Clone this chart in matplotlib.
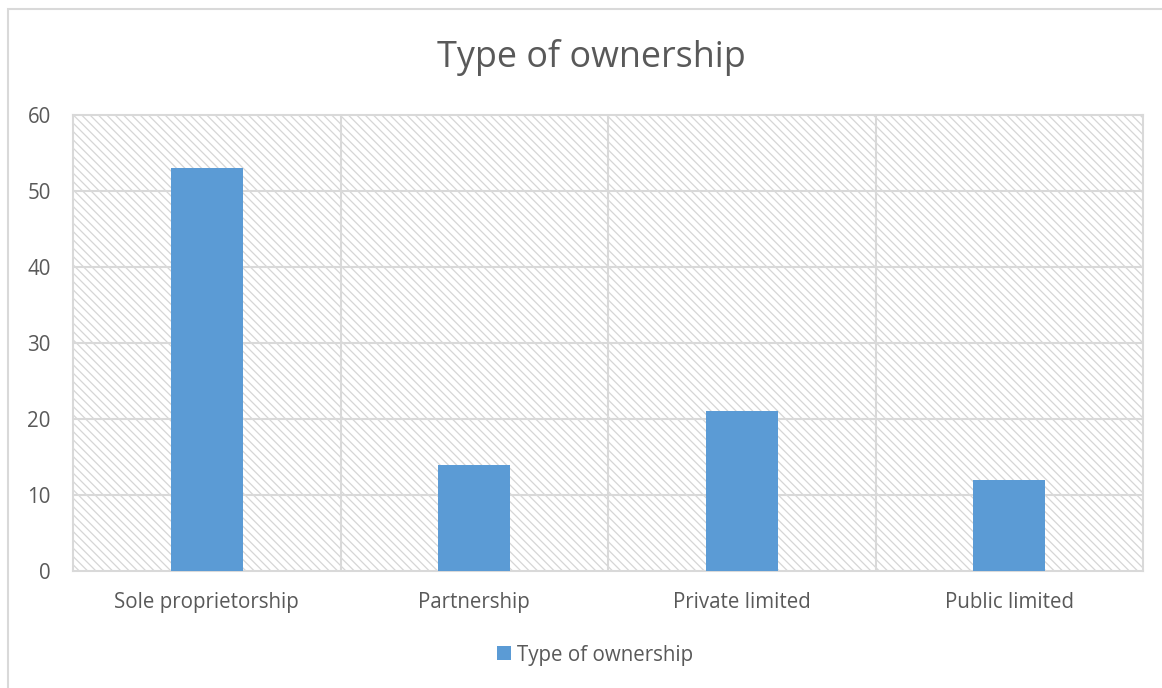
import matplotlib
matplotlib.use("Agg")
import matplotlib.pyplot as plt
from matplotlib.patches import Rectangle

categories = ["Sole proprietorship", "Partnership", "Private limited", "Public limited"]
values = [53, 14, 21, 12]
series_name = "Type of ownership"
yticks = [0, 10, 20, 30, 40, 50, 60]

bar_color = "#5b9bd5"
grid_color = "#d9d9d9"
text_color = "#595959"

plt.rcParams["font.family"] = ["Open Sans", "DejaVu Sans"]
plt.rcParams["hatch.linewidth"] = 0.9

fig = plt.figure(figsize=(11.62, 6.88), dpi=100)
fig.patch.set_facecolor("white")

# chart frame
fig.patches.append(Rectangle((8 / 1162, -0.1), 1.2, (688 - 9) / 688 + 0.1,
                             transform=fig.transFigure, fill=False,
                             edgecolor=grid_color, linewidth=1.5, zorder=0))

ax = fig.add_axes([73 / 1162, 117 / 688, (1143 - 73) / 1162, (571 - 115) / 688])
ax.set_facecolor("white")

# hatched plot background
ax.add_patch(Rectangle((0, 0), 1, 1, transform=ax.transAxes, facecolor="white",
                       edgecolor="#d6d6d6", hatch="\\\\\\\\", linewidth=0, zorder=0))

x = list(range(len(categories)))
ax.bar(x, values, width=0.27, color=bar_color, zorder=3, label=series_name)

ax.set_xlim(-0.5, len(categories) - 0.5)
ax.set_ylim(0, 60)
ax.set_yticks(yticks)
ax.set_xticks(x)
ax.set_xticklabels(categories)

# vertical separators between categories and horizontal gridlines
for b in [i + 0.5 for i in range(len(categories) - 1)]:
    ax.axvline(b, color=grid_color, linewidth=1.5, zorder=1)
for t in yticks[1:-1]:
    ax.axhline(t, color=grid_color, linewidth=1.5, zorder=1)

for s in ax.spines.values():
    s.set_color(grid_color)
    s.set_linewidth(1.5)

ax.tick_params(axis="both", length=0, labelsize=14.8, colors=text_color)
ax.tick_params(axis="x", pad=15)
ax.tick_params(axis="y", pad=16)

fig.text(591 / 1162, (688 - 58) / 688, "Type of ownership", ha="center", va="center",
         fontsize=25.8, color=text_color)

fig.legend(loc="center", bbox_to_anchor=(595 / 1162, (688 - 655) / 688), frameon=False,
           fontsize=14.8, labelcolor=text_color, handlelength=0.65, handleheight=0.65,
           handletextpad=0.3)

fig.savefig("out.png", dpi=100)
